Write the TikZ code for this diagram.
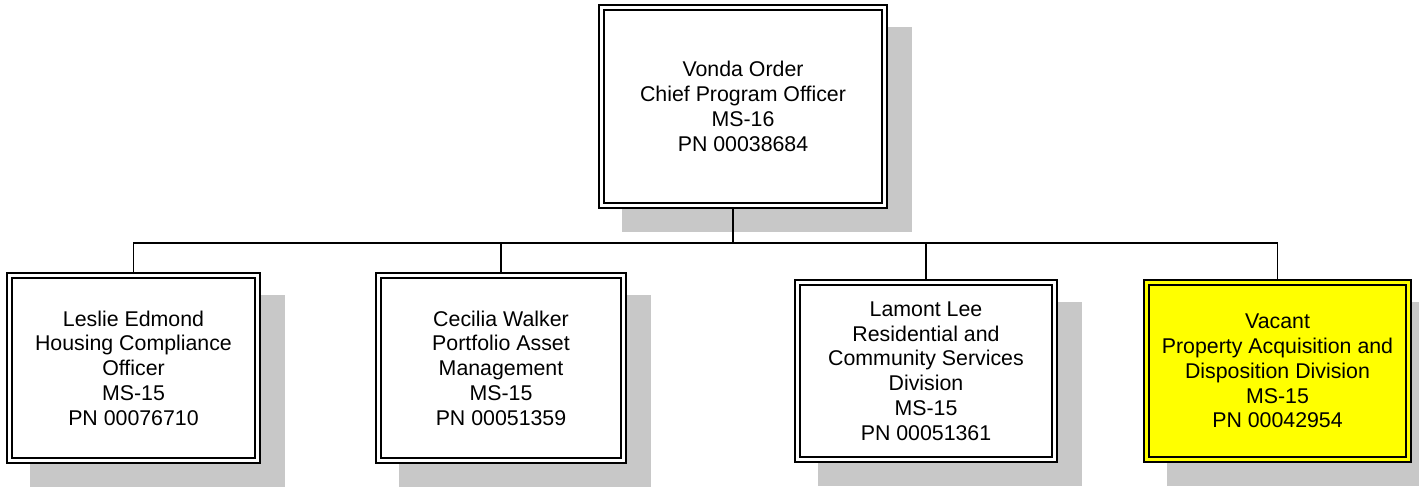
\documentclass[tikz,border=0pt]{standalone}
\usepackage{fontspec}
\setmainfont{Liberation Sans}
\usetikzlibrary{calc,backgrounds}
\definecolor{shadowc}{RGB}{200,200,200}
\definecolor{boxyellow}{RGB}{255,255,0}
\tikzset{
  orgbox/.style={draw=black, fill=white, double=white, line width=1.5pt,
    double distance=2.25pt, inner sep=0pt, outer sep=0pt, align=center,
    font=\fontsize{16pt}{18.6pt}\selectfont},
  vacantbox/.style={orgbox, fill=boxyellow, double=boxyellow},
  conn/.style={draw=black, line width=1.1pt},
}
\begin{document}
\begin{tikzpicture}[x=0.75pt,y=-0.75pt]
\useasboundingbox (0,0) rectangle (1419,488);
\clip (0,0) rectangle (1419,488);
\node[orgbox, minimum width=212.25pt, minimum height=148.5pt] (top) at (743,106.5)
  {Vonda Order\\Chief Program Officer\\MS-16\\PN 00038684};
\node[orgbox, minimum width=186pt, minimum height=138.75pt] (b1) at (133.5,368)
  {Leslie Edmond\\Housing Compliance\\Officer\\MS-15\\PN 00076710};
\node[orgbox, minimum width=183.75pt, minimum height=138.75pt] (b2) at (501,368)
  {Cecilia Walker\\Portfolio Asset\\Management\\MS-15\\PN 00051359};
\node[orgbox, minimum width=192.75pt, minimum height=132.75pt] (b3) at (926,371)
  {Lamont Lee\\Residential and\\Community Services\\Division\\MS-15\\PN 00051361};
\node[vacantbox, minimum width=196.5pt, minimum height=132.75pt] (b4) at (1277.5,371)
  {Vacant\\Property Acquisition and\\Disposition Division\\MS-15\\PN 00042954};
\begin{pgfonlayer}{background}
  \foreach \n in {top,b1,b2,b3,b4}
    \fill[shadowc] ($(\n.north west)+(20.5,19.5)$) rectangle ($(\n.south east)+(27.5,26.5)$);
  \coordinate (junction) at (733,243);
  \draw[conn] (top.south -| junction) -- (junction);
  \draw[conn] (junction) -| (b1.north);
  \draw[conn] (junction) -| (b2.north);
  \draw[conn] (junction) -| (b3.north);
  \draw[conn] (junction) -| (b4.north);
\end{pgfonlayer}
\end{tikzpicture}
\end{document}
